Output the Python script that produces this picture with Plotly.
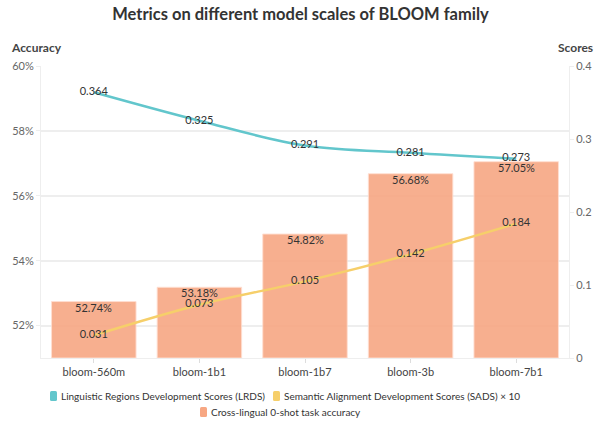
import plotly.graph_objects as go

models = ["bloom-560m", "bloom-1b1", "bloom-1b7", "bloom-3b", "bloom-7b1"]
accuracy = [52.74, 53.18, 54.82, 56.68, 57.05]
lrds = [0.364, 0.325, 0.291, 0.281, 0.273]
sads = [0.031, 0.073, 0.105, 0.142, 0.184]

names = ["Linguistic Regions Development Scores (LRDS)",
         "Semantic Alignment Development Scores (SADS) × 10",
         "Cross-lingual 0-shot task accuracy"]
c_lrds = "#62c6cc"
c_sads = "#f6cf6a"
c_bar = "#f7a783"
font = "Lato"

W, H = 601, 421
ML, MR, MT, MB = 41, 32, 66, 63
PW, PH = W - ML - MR, H - MT - MB


def px(x):
    return (x - ML) / PW


def py(y):
    return (H - MB - y) / PH


fig = go.Figure()
fig.add_trace(go.Bar(
    x=models, y=[a - 51 for a in accuracy], base=51,
    marker=dict(color=c_bar, opacity=0.9, line=dict(color="rgba(255,220,205,0.9)", width=1)),
    name=names[2], showlegend=False, yaxis="y", hoverinfo="skip"))
fig.add_trace(go.Scatter(
    x=models, y=lrds, mode="lines+text", text=[f"{v:.3f}" for v in lrds],
    textposition="middle center", textfont=dict(color="#333333", size=11, family=font),
    line=dict(color=c_lrds, width=2.5, shape="spline"), yaxis="y2",
    name=names[0], showlegend=False))
fig.add_trace(go.Scatter(
    x=models, y=sads, mode="lines+text", text=[f"{v:.3f}" for v in sads],
    textposition="middle center", textfont=dict(color="#333333", size=11, family=font),
    line=dict(color=c_sads, width=2.5, shape="spline"), yaxis="y2",
    name=names[1], showlegend=False))

annotations = []
# bar value labels just inside the top of each bar
for m, a in zip(models, accuracy):
    annotations.append(dict(x=m, y=a, xref="x", yref="y", text=f"{a:.2f}%",
                            showarrow=False, yanchor="top", borderpad=0, yshift=2,
                            font=dict(size=11, color="#333333", family=font)))

annotations += [
    dict(text="<b>Accuracy</b>", xref="paper", yref="paper", x=px(10), y=py(48),
         xanchor="left", yanchor="middle", showarrow=False, borderpad=0,
         font=dict(size=12, color="#444444")),
    dict(text="<b>Scores</b>", xref="paper", yref="paper", x=px(594), y=py(48),
         xanchor="right", yanchor="middle", showarrow=False, borderpad=0,
         font=dict(size=12, color="#444444")),
]

# custom legend (two centred rows)
shapes = []
leg_font = dict(size=10, color="#333333", family=font)


def swatch(x0, yc, col):
    x1, y0, y1 = x0 + 7, yc - 5, yc + 5
    r = 1.5
    X0, X1 = px(x0), px(x1)
    Y0, Y1 = py(y1), py(y0)
    rx, ry = r / PW, r / PH
    path = (f"M{X0+rx},{Y0} L{X1-rx},{Y0} Q{X1},{Y0} {X1},{Y0+ry} "
            f"L{X1},{Y1-ry} Q{X1},{Y1} {X1-rx},{Y1} L{X0+rx},{Y1} "
            f"Q{X0},{Y1} {X0},{Y1-ry} L{X0},{Y0+ry} Q{X0},{Y0} {X0+rx},{Y0} Z")
    shapes.append(dict(type="path", path=path, xref="paper", yref="paper",
                       fillcolor=col, line=dict(width=0), layer="above"))


row1, row2 = 396, 412
split = 266
w1 = 206
swatch(split - w1 - 10, row1, c_lrds)
annotations.append(dict(text=names[0], xref="paper", yref="paper", x=px(split), y=py(row1),
                        xanchor="right", yanchor="middle", showarrow=False, borderpad=0,
                        font=leg_font))
swatch(split + 7, row1, c_sads)
annotations.append(dict(text=names[1], xref="paper", yref="paper", x=px(split + 17), y=py(row1),
                        xanchor="left", yanchor="middle", showarrow=False, borderpad=0,
                        font=leg_font))
start2 = 200
swatch(start2, row2, c_bar)
annotations.append(dict(text=names[2], xref="paper", yref="paper", x=px(start2 + 10), y=py(row2),
                        xanchor="left", yanchor="middle", showarrow=False, borderpad=0,
                        font=leg_font))

fig.update_layout(
    width=W, height=H,
    margin=dict(l=ML, r=MR, t=MT, b=MB, autoexpand=False),
    paper_bgcolor="white", plot_bgcolor="white",
    font=dict(family=font, size=11, color="#555555"),
    title=dict(text="<b>Metrics on different model scales of BLOOM family</b>",
               x=0.5, xanchor="center", y=0.98, yanchor="top",
               font=dict(size=16.5, color="#333333", family=font)),
    bargap=0.2,
    showlegend=False,
    xaxis=dict(showgrid=False, ticks="outside", ticklen=4, tickcolor="#dddddd",
               showline=True, linecolor="#eeeeee", automargin=False,
               tickfont=dict(size=11, color="#444444")),
    yaxis=dict(range=[51, 60], tickvals=[52, 54, 56, 58, 60],
               ticktext=["52%", "54%", "56%", "58%", "60%"], automargin=False,
               showgrid=True, gridcolor="#eeeeee", gridwidth=1.5, zeroline=False,
               showline=True, linecolor="#eeeeee", ticks="outside", ticklen=4,
               tickcolor="#eeeeee", tickfont=dict(size=11, color="#666666")),
    yaxis2=dict(range=[0, 0.4], tickvals=[0, 0.1, 0.2, 0.3, 0.4],
                ticktext=["0", "0.1", "0.2", "0.3", "0.4"], automargin=False,
                overlaying="y", side="right", showgrid=False, zeroline=False,
                showline=True, linecolor="#eeeeee", ticks="outside", ticklen=4,
                tickcolor="#eeeeee", tickfont=dict(size=11, color="#666666")),
    annotations=annotations,
    shapes=shapes,
)
fig.write_html("out.html", config={"displayModeBar": False},
               post_script="document.body.style.margin='0';")
